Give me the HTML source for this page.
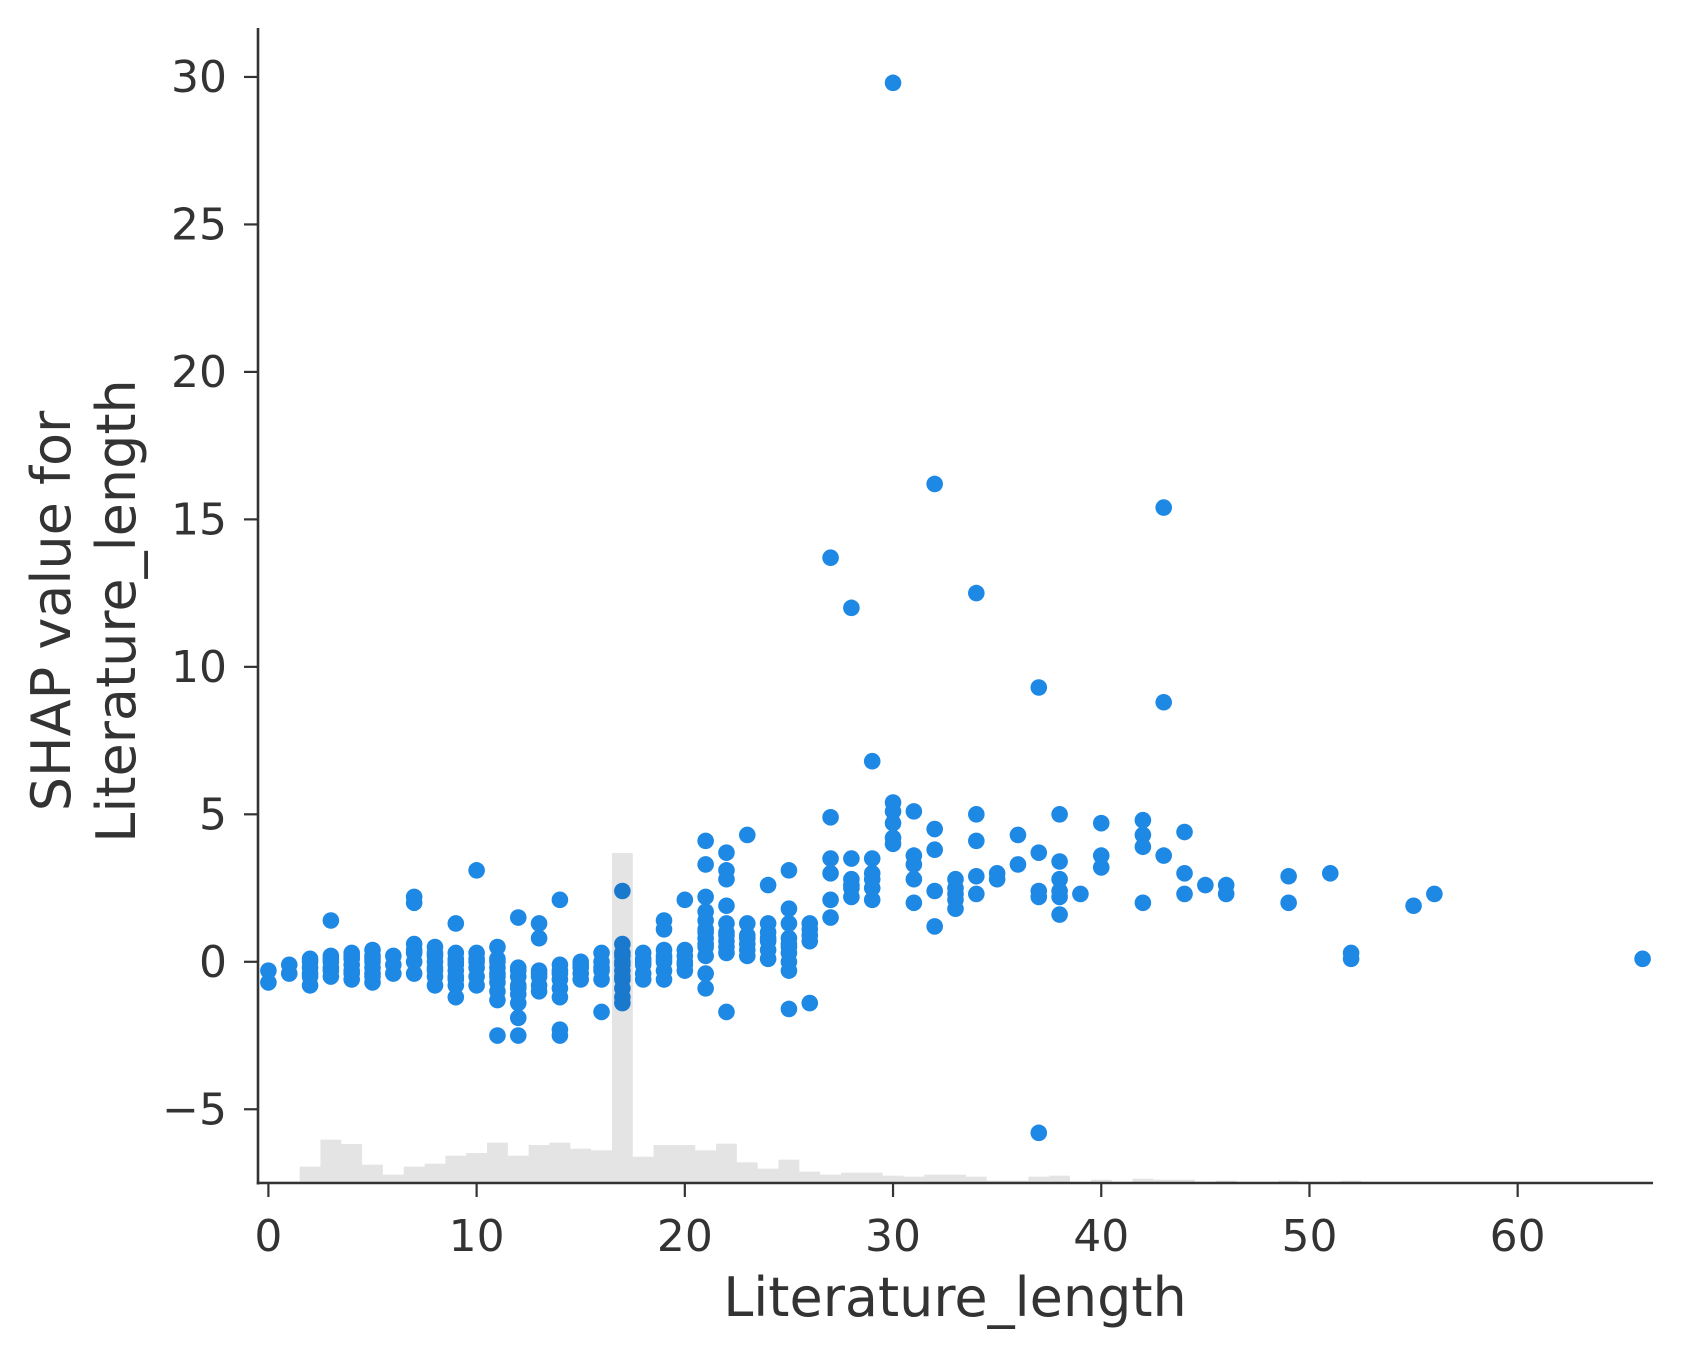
<!DOCTYPE html>
<html><head><meta charset="utf-8"><style>
html,body{margin:0;padding:0;background:#fff;}
svg{display:block;font-family:"DejaVu Sans","Liberation Sans",sans-serif;}
</style></head><body>
<svg id="chart" width="1682" height="1359" viewBox="0 0 1682 1359">
<g id="plot"></g>
<g id="axes"></g>
</svg>
<script>
const featureValues = [0,1,2,3,4,5,6,7,8,9,10,11,12,13,14,15,16,17,18,19,20,21,22,23,24,25,26,27,28,29,30,31,32,33,34,35,36,37,38,39,40,42,43,44,45,46,49,51,52,55,56,66];
const shapValues = [
[-0.3,-0.7],[-0.1,-0.4],[0.1,-0.2,-0.5,-0.8,-0.4,0],[1.4,0.2,0,-0.2,-0.5,0.1,-0.3],
[0.3,0.1,-0.1,-0.3,-0.6,0.2,-0.4],[0.4,0.2,0,-0.2,-0.4,-0.7,0.1,-0.5],[0.2,-0.1,-0.4],
[2.2,2.0,0.6,0.3,0,-0.4,0.4],[0.5,0.2,0,-0.2,-0.5,-0.8,0.3,-0.3],
[1.3,0.3,0.1,-0.1,-0.3,-0.5,-0.8,-1.2,0,-0.6],[3.1,0.3,0,-0.2,-0.5,-0.8,0.1],
[0.5,0.1,-0.2,-0.4,-0.7,-1.0,-1.3,-2.5,0,-0.5],[1.5,-0.2,-0.5,-0.8,-1.1,-1.4,-1.9,-2.5,-0.3,-0.9],
[1.3,0.8,-0.3,-0.5,-0.8,-1.0,-0.4],[2.1,-0.1,-0.3,-0.6,-0.9,-1.2,-2.3,-2.5,-0.4],
[0,-0.2,-0.4,-0.6,-0.1],[0.3,0,-0.3,-0.6,-1.7,-0.2],
[2.4,0.6,0.3,0,-0.3,-0.6,-0.9,-1.2,-1.4,0.2,-0.1,-0.5],[0.3,0.1,-0.1,-0.4,-0.6,0],
[1.4,1.1,0.4,0.2,0,-0.3,-0.6,0.1],[2.1,0.4,0.2,-0.1,-0.3,0],
[4.1,3.3,2.2,1.7,1.4,1.1,0.8,0.5,0.2,-0.4,-0.9,1.0,0.6],[3.7,3.1,2.8,1.9,1.3,1.0,0.7,0.5,0.3,-1.7,0.9],
[4.3,1.3,0.9,0.6,0.4,0.2,0.8],[2.6,1.3,1.0,0.7,0.4,0.1,0.8],[3.1,1.8,1.3,0.8,0.5,0.3,0,-0.3,-1.6,0.6],
[1.3,1.1,0.9,0.7,-1.4],[13.7,4.9,3.5,3.0,2.1,1.5],[12.0,3.5,2.8,2.5,2.2,2.6],[6.8,3.5,3.0,2.8,2.5,2.1],
[29.8,5.4,5.1,4.7,4.2,4.0],[5.1,3.6,3.3,2.8,2.0],[16.2,4.5,3.8,2.4,1.2],[2.8,2.5,2.1,1.8,2.3],
[12.5,5.0,4.1,2.9,2.3],[3.0,2.8],[4.3,3.3],[9.3,3.7,2.4,2.2,-5.8],[5.0,3.4,2.8,2.4,2.2,1.6],[2.3],
[4.7,3.6,3.2],[4.8,4.3,3.9,2.0],[15.4,8.8,3.6],[4.4,3.0,2.3],[2.6],[2.6,2.3],[2.9,2.0],[3.0],[0.3,0.1],[1.9],[2.3],[0.1]
];
const histCenters = [0,1,2,3,4,5,6,7,8,9,10,11,12,13,14,15,16,17,18,19,20,21,22,23,24,25,26,27,28,29,30,31,32,33,34,35,36,37,38,39,40,41,42,43,44,45,46,47,48,49,50,51,52];
const histCounts = [5,5,49,130,117,55,25,49,58,82,90,121,82,114,121,103,98,990,79,114,114,98,118,62,43,70,34,25,31,31,22,19,25,25,19,7,7,19,22,0,10,0,13,10,10,0,7,0,0,7,0,0,7];
const xTicks = [0,10,20,30,40,50,60];
const yTicks = [-5,0,5,10,15,20,25,30];

const NS = "http://www.w3.org/2000/svg";
const L = 258, R = 1653, T = 28, B = 1183;
const xMin = -0.5, xMax = 66.5, yMin = -7.5, yMax = 31.66;
const sx = v => L + (v - xMin) / (xMax - xMin) * (R - L);
const sy = v => B - (v - yMin) / (yMax - yMin) * (B - T);
const hScale = v => v / 3;
const plot = document.getElementById('plot');
const axes = document.getElementById('axes');
function mk(tag, attrs, parent){const e=document.createElementNS(NS,tag);for(const k in attrs)e.setAttribute(k,attrs[k]);parent.appendChild(e);return e;}

featureValues.forEach((fx,i)=>{
  shapValues[i].forEach(v=>{
    const c = mk('circle',{cx:sx(fx),cy:sy(v),r:8.3,fill:'#1E88E5'},plot);
    
    
  });
});
const bw = sx(1)-sx(0);
histCenters.forEach((c,i)=>{
  const h = hScale(histCounts[i]);
  if(h<=0) return;
  const r = mk('rect',{x:sx(c)-bw/2,y:B-h,width:bw,height:h,fill:'rgba(0,0,0,0.105)'},plot);
  
  
});

mk('line',{x1:L,y1:T,x2:L,y2:B+1.5,stroke:'#333',"stroke-width":2.6},axes);
mk('line',{x1:L-1.3,y1:B,x2:R,y2:B,stroke:'#333',"stroke-width":2.6},axes);
xTicks.forEach(t=>{
  const ln = mk('line',{x1:sx(t),y1:B,x2:sx(t),y2:B+14,stroke:'#333',"stroke-width":2.2},axes);
  
  const tx = mk('text',{x:sx(t),y:B+68,"text-anchor":"middle","font-size":44,fill:'#333'},axes);
  tx.textContent = t;
  
  
});
yTicks.forEach(t=>{
  const ln = mk('line',{x1:L-14,y1:sy(t),x2:L,y2:sy(t),stroke:'#333',"stroke-width":2.2},axes);
  
  const tx = mk('text',{x:L-31,y:sy(t)+15,"text-anchor":"end","font-size":44,fill:'#333'},axes);
  tx.textContent = t < 0 ? '\u2212' + Math.abs(t) : t;
  
  
});
</script>
<svg style="position:absolute;left:0;top:0" width="1682" height="1359">
<text x="955" y="1316" text-anchor="middle" font-size="54" fill="#333" font-family="DejaVu Sans, Liberation Sans, sans-serif">Literature_length</text>
<text transform="translate(70,611) rotate(-90)" text-anchor="middle" font-size="54" fill="#333" font-family="DejaVu Sans, Liberation Sans, sans-serif">SHAP value for</text>
<text transform="translate(135,611) rotate(-90)" text-anchor="middle" font-size="54" fill="#333" font-family="DejaVu Sans, Liberation Sans, sans-serif">Literature_length</text>
</svg>
</body></html>
